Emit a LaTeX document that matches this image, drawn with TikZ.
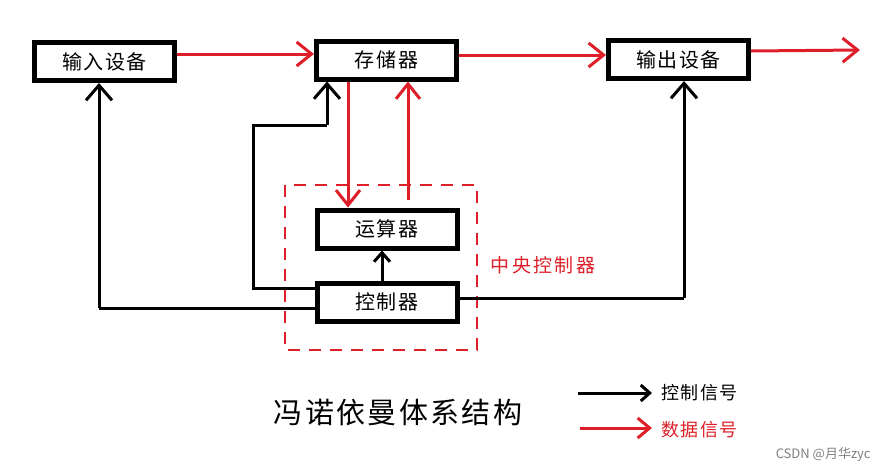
\documentclass[tikz,border=0pt]{standalone}
\usepackage{fontspec}
\setmainfont{Noto Sans CJK SC}
\usetikzlibrary{arrows.meta}
\definecolor{myred}{RGB}{222,30,40}
\newcommand{\wide}{\addfontfeatures{LetterSpace=8}}
\begin{document}
\begin{tikzpicture}[x=1pt,y=-1pt,
  box/.style={draw=black,line width=5pt,minimum width=140pt,minimum height=38pt,inner sep=0pt,font=\fontsize{20}{20}\selectfont\wide,fill=white},
  ctrl/.style={draw=black,line width=3pt,-{Straight Barb[length=15pt,width=26pt,line width=3pt]}},
  data/.style={draw=myred,line width=3pt,-{Straight Barb[length=15pt,width=24pt,line width=3pt]}},
  plain/.style={draw=black,line width=3pt},
  lbl/.style={font=\fontsize{18}{18}\selectfont\wide,anchor=west}]
\useasboundingbox[fill=white] (0,0) rectangle (884,472);
\node[box] (in) at (104.5,61.5) {输入设备};
\node[box] (mem) at (386.5,60) {存储器};
\node[box] (out) at (678.5,59.5) {输出设备};
\node[box] (alu) at (387,229) {运算器};
\node[box] (ctl) at (387,302) {控制器};
% dashed CPU box
\draw[myred,line width=2pt,dash pattern=on 12pt off 9pt] (285,185) rectangle (477,350);
\node[myred,font=\fontsize{19}{19}\selectfont\addfontfeatures{LetterSpace=12}] (cpu) at (543,265) {中央控制器};
% data arrows
\draw[data] (in.east |- 0,54) -- (mem.west |- 0,54);
\draw[data] (mem.east |- 0,55) -- (out.west |- 0,55);
\coordinate (o2) at (860,50);
\draw[data] (out.east |- 0,51) -- (o2);
\draw[data] (mem.south -| 348,0) -- (alu.north -| 348,0);
\coordinate (s3) at (408,200);
\draw[data] (s3) -- (mem.south -| 408,0);
% control arrows
\coordinate (c1) at (99,308);
\draw[plain] (ctl.west |- c1) -- (c1);
\draw[ctrl] (c1) -- (in.south -| c1);
\coordinate (c2) at (253,288);
\coordinate (c3) at (253,125);
\coordinate (c4) at (327,125);
\draw[plain] (ctl.west |- c2) -- (c2) -- (c3) -- (c4);
\draw[ctrl] (c4) -- (mem.south -| c4);
\draw[ctrl,-{Straight Barb[length=9pt,width=16pt,line width=3pt]}] (ctl.north -| 382,0) -- (alu.south -| 382,0);
\coordinate (c5) at (684,298);
\draw[plain] (ctl.east |- c5) -- (c5);
\draw[ctrl] (c5) -- (out.south -| c5);
% title
\node[font=\fontsize{29}{29}\selectfont\wide] (title) at (398,413) {冯诺依曼体系结构};
% legend
\coordinate (l1) at (578,393);
\coordinate (l2) at (652,393);
\draw[ctrl,-{Straight Barb[length=9pt,width=16pt,line width=3pt]}] (l1) -- (l2);
\node[lbl] (lt1) at (658,393) {控制信号};
\coordinate (l3) at (580,428);
\coordinate (l4) at (652,428);
\draw[data,-{Straight Barb[length=12pt,width=20pt,line width=3pt]}] (l3) -- (l4);
\node[lbl,myred] (lt2) at (658,430) {数据信号};
\node[font=\fontsize{13}{13}\selectfont,text=gray,anchor=east] (wm) at (874,455) {CSDN @月华zyc};
\end{tikzpicture}
\end{document}
